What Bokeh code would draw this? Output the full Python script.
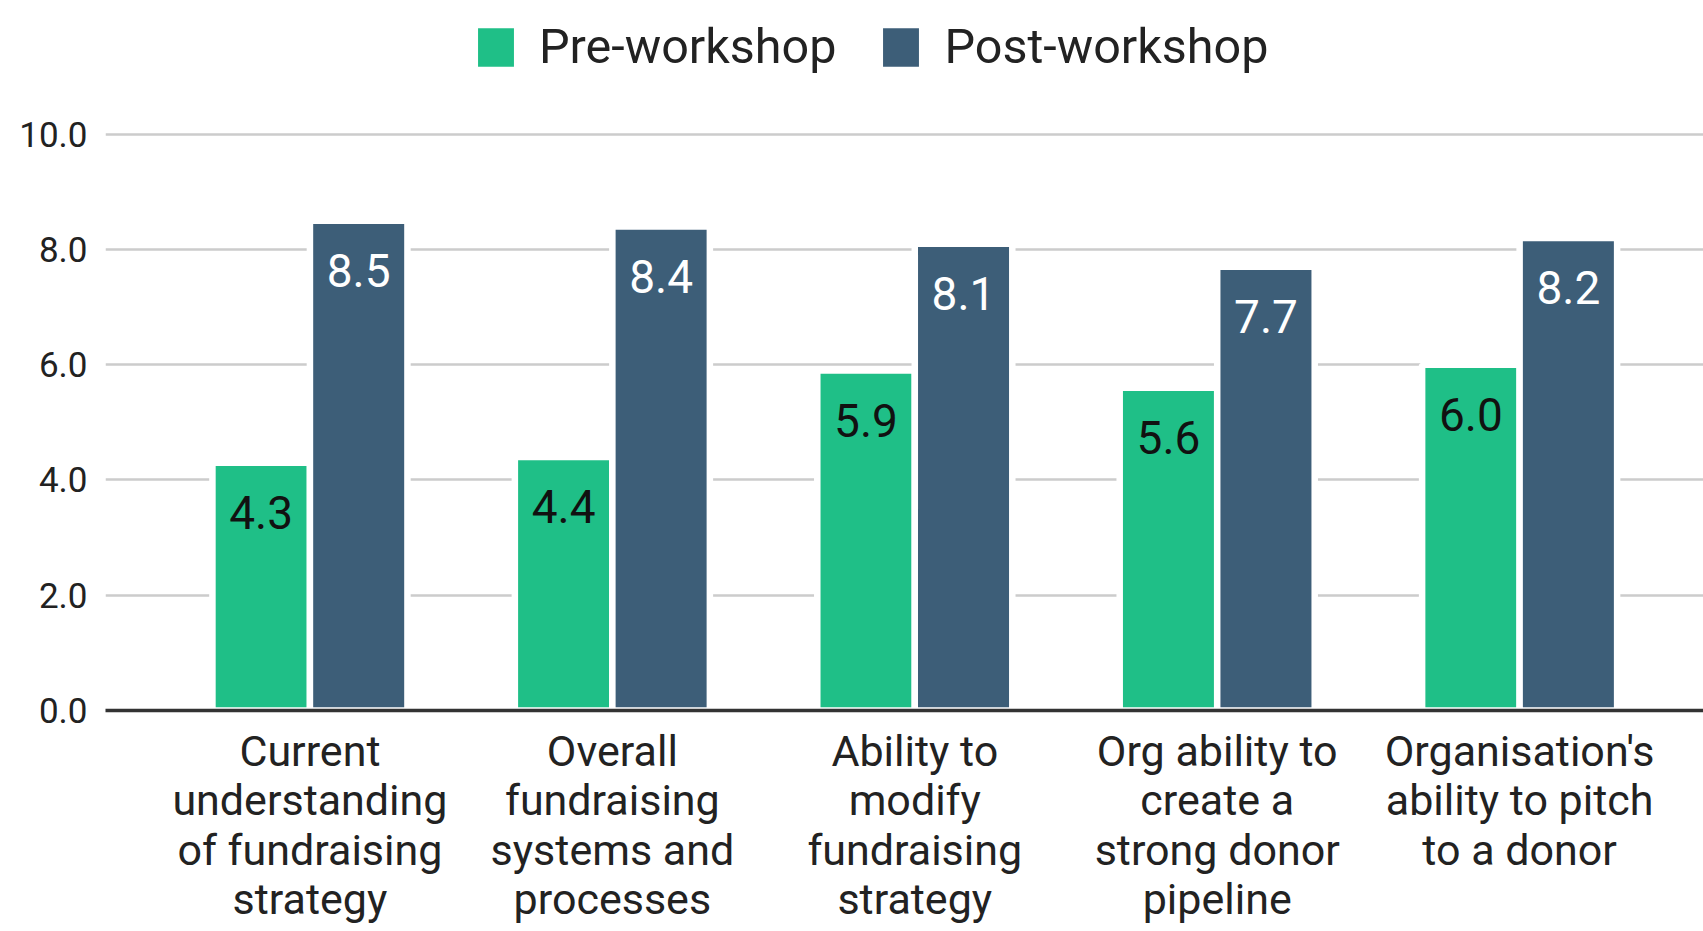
from bokeh.plotting import figure
from bokeh.models import (ColumnDataSource, FixedTicker, Range1d, LabelSet,
                          Legend, LegendItem, NumeralTickFormatter)
from bokeh.core.properties import value
from bokeh.transform import dodge
from bokeh.embed import file_html
from bokeh.resources import INLINE

categories = [
    "Current understanding of fundraising strategy",
    "Overall fundraising systems and processes",
    "Ability to modify fundraising strategy",
    "Org ability to create a strong donor pipeline",
    "Organisation's ability to pitch to a donor",
]
tick_labels = [
    "Current\nunderstanding\nof fundraising\nstrategy",
    "Overall\nfundraising\nsystems and\nprocesses",
    "Ability to\nmodify\nfundraising\nstrategy",
    "Org ability to\ncreate a\nstrong donor\npipeline",
    "Organisation's\nability to pitch\nto a donor",
]
pre_workshop = [4.3, 4.4, 5.9, 5.6, 6.0]
post_workshop = [8.5, 8.4, 8.1, 7.7, 8.2]
y_ticks = [0, 2, 4, 6, 8, 10]

GREEN = "#1fbf87"
NAVY = "#3d5e78"
FONT = "Roboto"

xs = list(range(len(categories)))
src = ColumnDataSource(dict(
    x=xs,
    pre=pre_workshop,
    post=post_workshop,
    pre_txt=[f"{v:.1f}" for v in pre_workshop],
    post_txt=[f"{v:.1f}" for v in post_workshop],
))

p = figure(width=1703, height=927, output_backend="svg", toolbar_location=None,
           x_range=Range1d(-0.676, 4.608), y_range=Range1d(0, 12.32),
           min_border_left=105, min_border_right=0, min_border_top=0,
           min_border_bottom=215)
p.outline_line_color = None
p.background_fill_color = "white"
p.border_fill_color = "white"

bw = 0.3224
off = 0.1612
r_pre = p.vbar(x=dodge("x", -off, range=p.x_range), top="pre", width=bw, bottom=0,
               source=src, fill_color=GREEN, line_color="white", line_width=6.5)
r_post = p.vbar(x=dodge("x", off, range=p.x_range), top="post", width=bw, bottom=0,
                source=src, fill_color=NAVY, line_color="white", line_width=6.5)

lab_pre = LabelSet(x=dodge("x", -off, range=p.x_range), y="pre", text="pre_txt", source=src,
                   y_offset=-50, text_align="center", text_baseline="middle",
                   text_font=value(FONT), text_font_size=value("46px"), text_color="#111111")
lab_post = LabelSet(x=dodge("x", off, range=p.x_range), y="post", text="post_txt", source=src,
                    y_offset=-50, text_align="center", text_baseline="middle",
                    text_font=value(FONT), text_font_size=value("46px"), text_color="white")
p.add_layout(lab_pre)
p.add_layout(lab_post)

# axes
p.yaxis.ticker = FixedTicker(ticks=y_ticks)
p.yaxis.formatter = NumeralTickFormatter(format="0.0")
p.yaxis.axis_line_color = None
p.yaxis.major_tick_line_color = None
p.yaxis.minor_tick_line_color = None
p.yaxis.major_tick_out = 0
p.yaxis.major_label_standoff = 18
p.yaxis.major_label_text_font = FONT
p.yaxis.major_label_text_font_size = "35px"
p.yaxis.major_label_text_color = "#222222"

p.xaxis.ticker = FixedTicker(ticks=xs)
p.xaxis.major_label_overrides = {i: t for i, t in zip(xs, tick_labels)}
p.xaxis.axis_line_color = "#333333"
p.xaxis.axis_line_width = 3.5
p.xaxis.major_tick_line_color = None
p.xaxis.minor_tick_line_color = None
p.xaxis.major_tick_out = 0
p.xaxis.major_tick_in = 0
p.xaxis.major_label_standoff = 15
p.xaxis.major_label_text_font = FONT
p.xaxis.major_label_text_font_size = "43px"
p.xaxis.major_label_text_line_height = 0.99
p.xaxis.major_label_text_color = "#222222"
p.xaxis.major_label_text_align = "center"

p.xgrid.grid_line_color = None
p.ygrid.ticker = FixedTicker(ticks=y_ticks)
p.ygrid.grid_line_color = "#cccccc"
p.ygrid.grid_line_width = 2.5

legend = Legend(items=[LegendItem(label="Pre-workshop", renderers=[r_pre]),
                       LegendItem(label="Post-workshop", renderers=[r_post])],
                orientation="horizontal", location=(364, 635))
legend.label_text_font = FONT
legend.label_text_font_size = "48.5px"
legend.label_text_color = "#222222"
legend.glyph_width = 53
legend.glyph_height = 56
legend.label_standoff = 17
legend.spacing = 38
legend.padding = 0
legend.margin = 0
legend.border_line_color = None
legend.background_fill_alpha = 0
p.add_layout(legend, "center")

open("out.html", "w").write(file_html(p, INLINE))
